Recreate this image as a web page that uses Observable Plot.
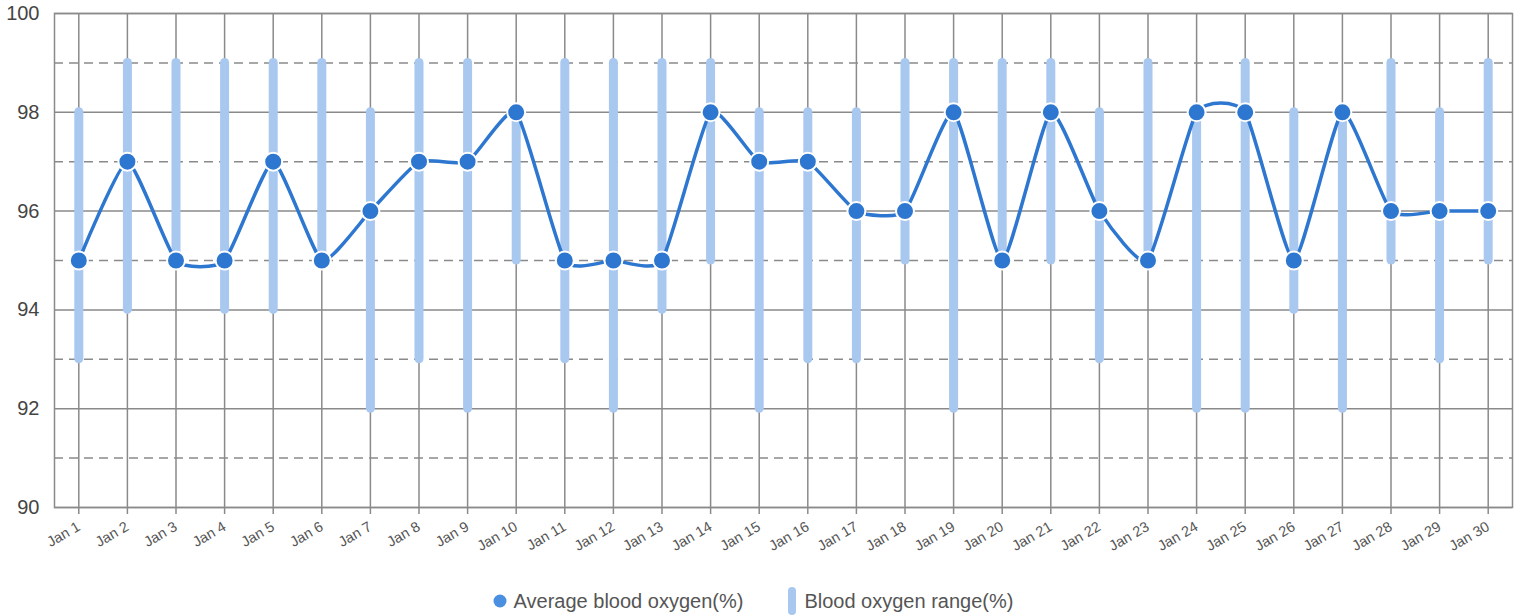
<!DOCTYPE html>
<html>
<head>
<meta charset="utf-8">
<script src="https://cdn.jsdelivr.net/npm/d3@7"></script>
<script src="https://cdn.jsdelivr.net/npm/@observablehq/plot@0.6"></script>
<style>
  html, body { margin: 0; padding: 0; background: #fff; }
  body { width: 1520px; height: 616px; overflow: hidden; font-family: "Liberation Sans", Arial, sans-serif; }
  #legend { display: flex; justify-content: center; align-items: center; height: 40px; margin-top: 21px; font-size: 20px; color: #555; padding-right: 14px; }
  .item { display: flex; align-items: center; }
  .item svg { margin-right: 7px; }
</style>
</head>
<body>
<div id="chart"></div>
<div id="legend">
  <div class="item" style="margin-right:44px;"><svg width="14" height="14"><circle cx="7" cy="7" r="6.5" fill="#4a8fe0"/></svg>Average blood oxygen(%)</div>
  <div class="item"><svg width="10" height="30"><rect x="1" y="1" width="8" height="28" rx="4" fill="#a8c8f0"/></svg>Blood oxygen range(%)</div>
</div>
<script>
const days = ["Jan 1","Jan 2","Jan 3","Jan 4","Jan 5","Jan 6","Jan 7","Jan 8","Jan 9","Jan 10","Jan 11","Jan 12","Jan 13","Jan 14","Jan 15","Jan 16","Jan 17","Jan 18","Jan 19","Jan 20","Jan 21","Jan 22","Jan 23","Jan 24","Jan 25","Jan 26","Jan 27","Jan 28","Jan 29","Jan 30"];
const avgOxygen = [95,97,95,95,97,95,96,97,97,98,95,95,95,98,97,97,96,96,98,95,98,96,95,98,98,95,98,96,96,96];
const lowOxygen = [93,94,95,94,94,95,92,93,92,95,93,92,94,95,92,93,93,95,92,95,95,93,95,92,92,94,92,95,93,95];
const highOxygen = [98,99,99,99,99,99,98,99,99,98,99,99,99,99,98,98,98,99,99,99,99,98,99,98,99,98,98,99,98,99];
const majorTicks = [90,92,94,96,98,100];
const minorTicks = [91,93,95,97,99];

const data = days.map((d, i) => ({day: d, avg: avgOxygen[i], low: lowOxygen[i], high: highOxygen[i]}));

const gridColor = "#8a8a8a";
const chart = Plot.plot({
  width: 1520,
  height: 560,
  marginLeft: 54,
  marginRight: 8,
  marginTop: 13,
  marginBottom: 53,
  style: {fontFamily: "Liberation Sans, Arial, sans-serif", background: "#fff"},
  x: {type: "point", domain: days, padding: 0.5, round: false},
  y: {domain: [90, 100]},
  marks: [
    Plot.ruleY(minorTicks, {stroke: gridColor, strokeWidth: 1.5, strokeDasharray: "9,6"}),
    Plot.ruleY(majorTicks, {stroke: gridColor, strokeWidth: 1.5}),
    Plot.ruleX(days, {x: d => d, stroke: gridColor, strokeWidth: 1.5}),
    Plot.frame({stroke: gridColor, strokeWidth: 1.5}),
    Plot.axisY({ticks: majorTicks, tickSize: 0, tickPadding: 15, fontSize: 20, fill: "#444", label: null}),
    Plot.axisX({tickSize: 7, tickRotate: -30, fontSize: 14.5, fill: "#555", stroke: gridColor, strokeWidth: 1.5, label: null, tickPadding: 11}),
    Plot.ruleX(data, {x: "day", y1: "low", y2: "high", stroke: "#a8c8f0", strokeWidth: 9, strokeLinecap: "round"}),
    Plot.line(data, {x: "day", y: "avg", stroke: "#2e77d0", strokeWidth: 3.5, curve: "cardinal", tension: 0.5}),
    Plot.dot(data, {x: "day", y: "avg", r: 9, fill: "#2e77d0", stroke: "#fff", strokeWidth: 2})
  ]
});
document.getElementById("chart").appendChild(chart);
</script>
</body>
</html>
